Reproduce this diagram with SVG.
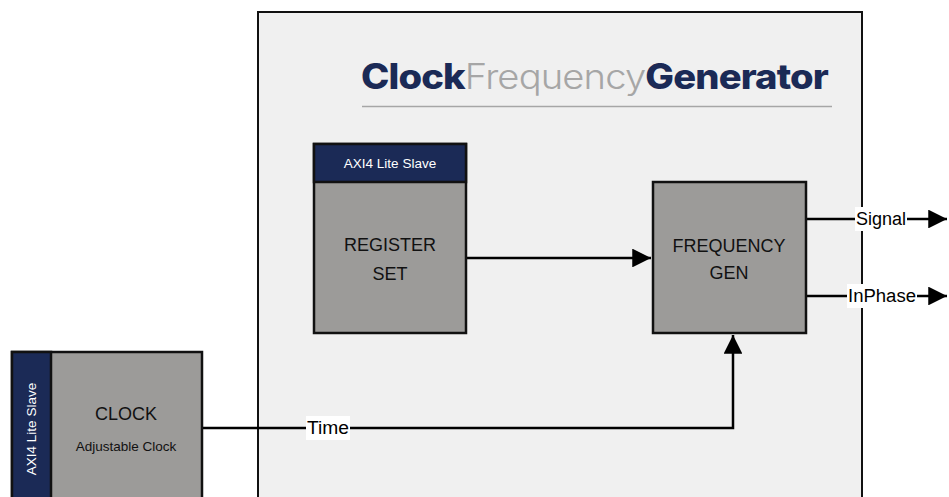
<svg xmlns="http://www.w3.org/2000/svg" width="949" height="497" viewBox="0 0 949 497">
<style>
.blk{fill:#9c9b99;stroke:#111;stroke-width:2.5}
.hdr{fill:#1b2a56;stroke:#111;stroke-width:2.5}
.t{font-family:"Liberation Sans",Arial,sans-serif;fill:#111;text-anchor:middle}
.w{font-family:"Liberation Sans",Arial,sans-serif;fill:#fff;text-anchor:middle;font-size:13.5px}
.ln{fill:none;stroke:#000;stroke-width:2.5}
.lbl{font-family:"Liberation Sans",Arial,sans-serif;fill:#000;font-size:18px}
</style>
<defs>
<marker id="ah" viewBox="0 0 10 10" refX="10" refY="5" markerWidth="9" markerHeight="7.5" markerUnits="strokeWidth" orient="auto">
<path d="M0,0 L10,5 L0,10 z" fill="#000"/>
</marker>
</defs>
<rect width="949" height="497" fill="#fff"/>
<g id="main">
<rect x="258" y="12" width="604" height="500" fill="#f0f0f0" stroke="#111" stroke-width="2"/>
<text x="361" y="89" font-family="Inter,Lato,sans-serif" font-size="35" textLength="467" lengthAdjust="spacingAndGlyphs" letter-spacing="-0.8"><tspan font-weight="800" fill="#1b2a56">Clock</tspan><tspan font-weight="300" fill="#a6a6a6">Frequency</tspan><tspan font-weight="800" fill="#1b2a56">Generator</tspan></text>
<line x1="362" y1="106.5" x2="832" y2="106.5" stroke="#a6a6a6" stroke-width="1.5"/>
</g>
<g id="connectors">
<path class="ln" d="M466,258 H651" marker-end="url(#ah)"/>
<path class="ln" d="M806,219 H947" marker-end="url(#ah)"/>
<path class="ln" d="M806,296 H947" marker-end="url(#ah)"/>
<path class="ln" d="M202,428 H733 V335" marker-end="url(#ah)"/>
<rect x="855" y="207" width="52" height="24" fill="#fff"/>
<text class="lbl" x="856" y="225" textLength="50" lengthAdjust="spacingAndGlyphs">Signal</text>
<rect x="847" y="284" width="70" height="24" fill="#fff"/>
<text class="lbl" x="848" y="302" textLength="68" lengthAdjust="spacingAndGlyphs">InPhase</text>
<rect x="306" y="416" width="44" height="24" fill="#fff"/>
<text class="lbl" x="307" y="434" textLength="42" lengthAdjust="spacingAndGlyphs">Time</text>
</g>
<g id="register">
<rect class="blk" x="314" y="144" width="152" height="189"/>
<rect class="hdr" x="314" y="144" width="152" height="38"/>
<text class="w" x="390" y="168">AXI4 Lite Slave</text>
<text class="t" x="390" y="251" font-size="18">REGISTER</text>
<text class="t" x="390" y="280" font-size="18">SET</text>
</g>
<g id="freqgen">
<rect class="blk" x="653" y="182" width="153" height="151"/>
<text class="t" x="729" y="252" font-size="18">FREQUENCY</text>
<text class="t" x="729" y="279" font-size="18">GEN</text>
</g>
<g id="clock">
<rect class="blk" x="12" y="352" width="190" height="160"/>
<rect class="hdr" x="12" y="352" width="39" height="160"/>
<text class="w" transform="translate(36,429) rotate(-90)">AXI4 Lite Slave</text>
<text class="t" x="126" y="420" font-size="18">CLOCK</text>
<text class="t" x="126" y="451" font-size="13.5">Adjustable Clock</text>
</g>
</svg>
